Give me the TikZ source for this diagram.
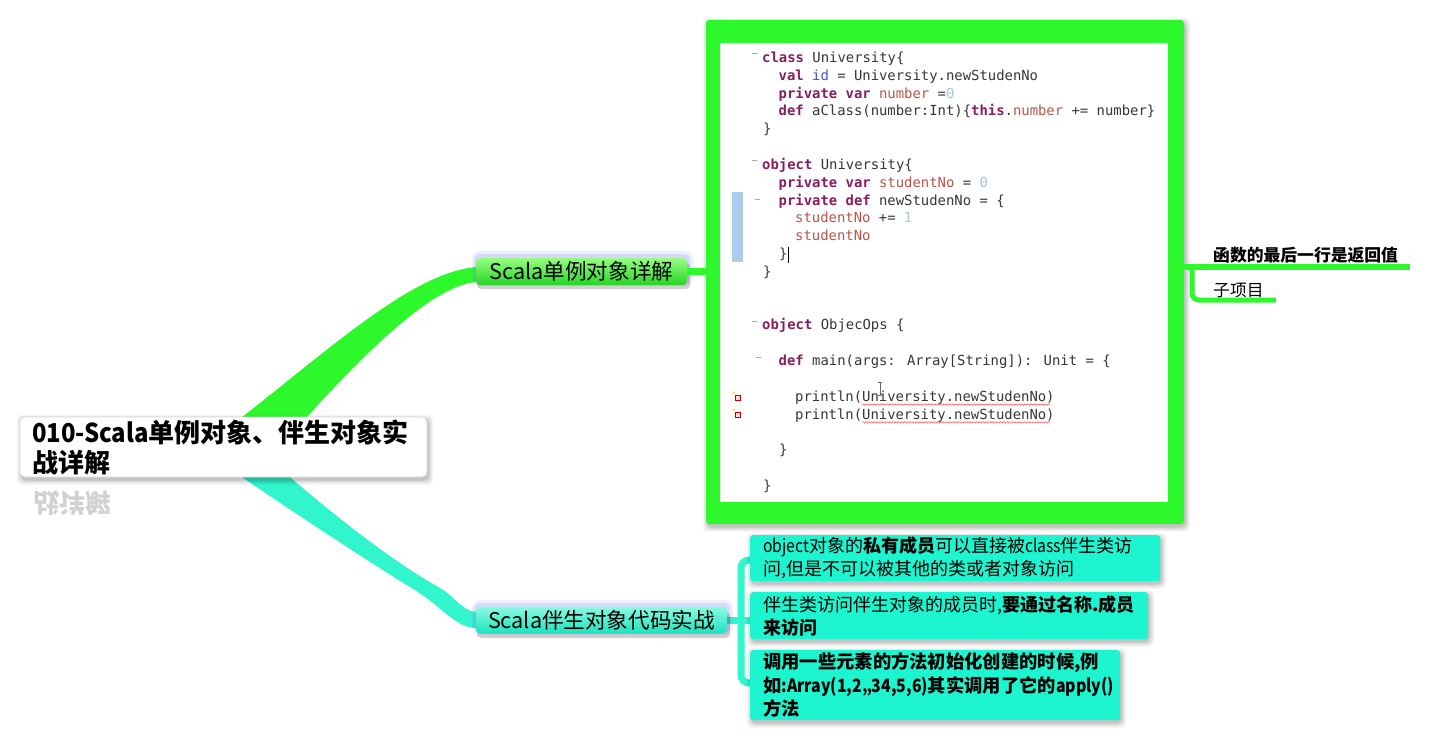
\documentclass[tikz,border=0pt]{standalone}
\usepackage{fontspec}
\setmainfont{Noto Sans CJK SC}
\newfontfamily\codefont{DejaVu Sans Mono}
\usetikzlibrary{calc,decorations.pathmorphing}
\pgfdeclarelayer{bg}
\pgfsetlayers{bg,main}

\definecolor{grn}{RGB}{44,248,44}
\definecolor{grnTop}{RGB}{150,255,130}
\definecolor{grnBot}{RGB}{38,212,38}
\definecolor{tq}{RGB}{28,245,208}
\definecolor{tqTop}{RGB}{140,250,225}
\definecolor{tqBot}{RGB}{28,226,190}
\definecolor{tqband}{RGB}{48,245,205}
\definecolor{glow}{RGB}{120,120,255}
\definecolor{kwc}{RGB}{135,30,95}
\definecolor{fldc}{RGB}{185,85,75}
\definecolor{idc}{RGB}{70,85,200}
\definecolor{numc}{RGB}{170,195,225}
\definecolor{codec}{RGB}{55,55,55}
\definecolor{barc}{RGB}{170,205,235}

\newcommand{\kw}[1]{\textcolor{kwc}{\bfseries #1}}
\newcommand{\fld}[1]{\textcolor{fldc}{#1}}
\newcommand{\nm}[1]{\textcolor{numc}{#1}}
\newcommand{\narrow}[2]{{\addfontfeatures{FakeStretch=#1}#2}}
\newcommand{\softshadow}[4]{%
  \foreach \dd/\op in {5/0.035,3.5/0.05,2/0.07,0.5/0.09}{%
    \fill[black,opacity=\op,rounded corners=5pt] (#1-\dd+1.5,#2-\dd+2.5) rectangle (#3+\dd+1.5,#4+\dd+3);}}

\begin{document}
\begin{tikzpicture}[x=1pt,y=-1pt,
  rootbox/.style={fill=white,draw=black!15,line width=0.6pt,rounded corners=5pt,
    text width=383pt,inner xsep=12pt,inner ysep=0pt,minimum height=60pt,align=left,
    font=\fontsize{26}{30}\selectfont\bfseries},
  topicA/.style={rounded corners=4pt,top color=grnTop,bottom color=grnBot,
    minimum width=211pt,minimum height=27pt,inner sep=0pt,font=\fontsize{21.6}{24}\selectfont},
  topicB/.style={rounded corners=4pt,top color=tqTop,bottom color=tqBot,
    minimum width=251pt,minimum height=27pt,inner sep=0pt,font=\fontsize{21.6}{24}\selectfont},
  noteBox/.style={fill=tq,rounded corners=3pt,anchor=north west,inner xsep=13pt,inner ysep=0pt,
    align=left,font=\fontsize{18}{23.3}\selectfont},
  codeline/.style={anchor=base west,inner sep=0pt,font=\codefont\fontsize{13.9}{16}\selectfont,text=codec},
  flabel/.style={inner xsep=12pt,inner ysep=2pt,font=\fontsize{16.8}{20}\selectfont},
  fold/.style={draw=black!35,line width=0.9pt}
]
\useasboundingbox (0,0) rectangle (1430,742);
\begin{pgfonlayer}{bg}
\fill[white] (0,0) rectangle (1430,742);
\end{pgfonlayer}

% ---------- root ----------
\softshadow{20}{417}{427}{477}
\node[rootbox] (root) at (223.5,447) {\narrow{0.92}{010-Scala}单例对象、伴生对象实\\战详解};
\node[text=black!18,inner sep=0pt,anchor=west] (refl) at (33,503)
  {\scalebox{1}[-1]{\fontsize{26}{30}\selectfont\bfseries 战详解}};

% ---------- topic 1 ----------
\fill[glow,opacity=.12,rounded corners=8pt] (472,251) rectangle (693,286);
\fill[glow,opacity=.18,rounded corners=6pt] (474,254) rectangle (690,284);
\fill[black,opacity=.18,rounded corners=4pt] (477,263) rectangle (690,289);
\node[topicA] (n1) at (581.5,271.5) {Scala单例对象详解};

% ---------- topic 2 ----------
\fill[glow,opacity=.12,rounded corners=8pt] (472,600) rectangle (733,635);
\fill[glow,opacity=.18,rounded corners=6pt] (474,603) rectangle (730,633);
\fill[black,opacity=.18,rounded corners=4pt] (477,612) rectangle (730,638);
\node[topicB] (n2) at (601.5,620) {Scala伴生对象代码实战};

% ---------- branches (background) ----------
\begin{pgfonlayer}{bg}
\fill[grn] ($(root.north)+(8.5,8)$) .. controls (320,358) and (410,272) .. ($(n1.west)+(1,-4.5)$)
  -- ($(n1.west)+(1,10.5)$) .. controls (440,284) and (380,335) .. ($(root.north)+(76.5,8)$) -- cycle;
\fill[tqband] ($(root.south)+(58.5,-7)$) .. controls (330,512) and (390,560) .. (440,588)
  .. controls (454,596) and (463,612) .. ($(n2.west)+(1,-8)$)
  -- ($(n2.west)+(1,8)$) .. controls (456,628) and (443,608) .. (418,592)
  .. controls (372,564) and (290,510) .. ($(root.south)+(8.5,-7)$) -- cycle;
\end{pgfonlayer}

% ---------- image frame ----------
\softshadow{706}{20}{1184}{524}
\node[fill=grn,rounded corners=3pt,minimum width=478pt,minimum height=504pt,inner sep=0pt] (img) at (945,272) {};
\node[fill=white,minimum width=448pt,minimum height=459pt,inner sep=0pt] (shot) at (944,272.5) {};
\draw[black!12,line width=0.5pt] (shot.north west) -- (shot.south west);

% code
\fill[barc] (732,192) rectangle (743,262);
\foreach \yy/\xx in {53/752,160/752,199/755,321/752,357/756}{\draw[fold] (\xx,\yy) -- (\xx+5,\yy);}
\node[codeline] (c0) at (762,62.5) {\kw{class} University\{};
\node[codeline] (c1) at (778.5,80.33) {\kw{val} \textcolor{idc}{id} = University.newStudenNo};
\node[codeline] (c2) at (778.5,98.16) {\kw{private} \kw{var} \fld{number} =\nm{0}};
\node[codeline] (c3) at (778.5,115.99) {\kw{def} aClass(number:Int)\{\kw{this}.\fld{number} += number\}};
\node[codeline] (c4) at (763,133.82) {\}};
\node[codeline] (c6) at (762,169.48) {\kw{object} University\{};
\node[codeline] (c7) at (778.5,187.31) {\kw{private} \kw{var} \fld{studentNo} = \nm{0}};
\node[codeline] (c8) at (778.5,205.14) {\kw{private} \kw{def} newStudenNo = \{};
\node[codeline] (c9) at (795,222.97) {\fld{studentNo} += \nm{1}};
\node[codeline] (c10) at (795,240.8) {\fld{studentNo}};
\node[codeline] (c11) at (779,258.63) {\}};
\draw[black,line width=0.9pt] (788,247) -- (788,263);
\node[codeline] (c12) at (763,276.46) {\}};
\node[codeline] (c15) at (762,329.95) {\kw{object} ObjecOps \{};
\node[codeline] (c17) at (778.5,365.61) {\kw{def} main(args: Array[String]): Unit = \{};
\node[codeline] (c19) at (795,401.27) {println(University.newStudenNo)};
\node[codeline] (c20) at (795,419.1) {println(University.newStudenNo)};
\node[codeline] (c22) at (779,454.76) {\}};
\node[codeline] (c24) at (763,490.42) {\}};
\foreach \yy in {404.5,422.3}{\draw[red!70,line width=0.5pt,decorate,decoration={snake,amplitude=0.7pt,segment length=3pt}] (862,\yy) -- (1050,\yy);}
\draw[black!60,line width=0.7pt] (880,382) -- (880,395) (878,382) -- (882,382) (878,395) -- (882,395);
\foreach \yy in {397,414}{
  \fill[yellow!60!orange,opacity=.6] (734,\yy-4) circle (1.6pt);
  \draw[red!75!black,line width=0.6pt,fill=red!15] (735,\yy-2) rectangle (740,\yy+3);}

% ---------- connectors of topic 1 ----------
\draw[grn,line width=7pt] (n1.east) -- (n1.east -| img.west);
\coordinate (j1) at (1192,267);
\node[flabel,anchor=south west,font=\fontsize{16.8}{20}\selectfont\bfseries] (f1) at (1201,265) {函数的最后一行是返回值};
\node[flabel,anchor=west] (f2) at (1201,290) {子项目};
\draw[grn,line width=5pt,rounded corners=7pt] (j1) |- ($(f2.east)+(0,10)$);
\draw[grn,line width=6pt] (img.east |- j1) -- (j1) -- (j1 -| f1.east);

% ---------- notes of topic 2 ----------
\softshadow{750}{535}{1160}{581}
\softshadow{750}{592}{1148}{639}
\softshadow{750}{650}{1120}{720}
\node[noteBox,text width=384pt,minimum height=46pt] (bA) at (750,535)
  {\narrow{0.87}{object}对象的\textbf{私有成员}可以直接被\narrow{0.87}{class}伴生类访\\问,但是不可以被其他的类或者对象访问};
\node[noteBox,text width=372pt,minimum height=47pt] (bB) at (750,592)
  {伴生类访问伴生对象的成员时,\textbf{要通过名称.成员}\\\textbf{来访问}};
\node[noteBox,text width=344pt,minimum height=70pt,font=\fontsize{18.3}{23.5}\selectfont\bfseries] (bC) at (750,650)
  {调用一些元素的方法初始化创建的时候,例\\如\narrow{0.865}{:Array(1,2,,34,5,6)}其实调用了它的\narrow{0.865}{apply()}\\方法};
\coordinate (j2) at (741,620);
\begin{pgfonlayer}{bg}
\draw[tqband,line width=7pt] (n2.east) -- (j2);
\draw[tqband,line width=7pt,rounded corners=8pt] (bA.west |- 0,560) -| (j2) |- (bC.west |- 0,683);
\draw[tqband,line width=7pt] (j2) -- (bB.west |- j2);
\end{pgfonlayer}
\end{tikzpicture}
\end{document}
